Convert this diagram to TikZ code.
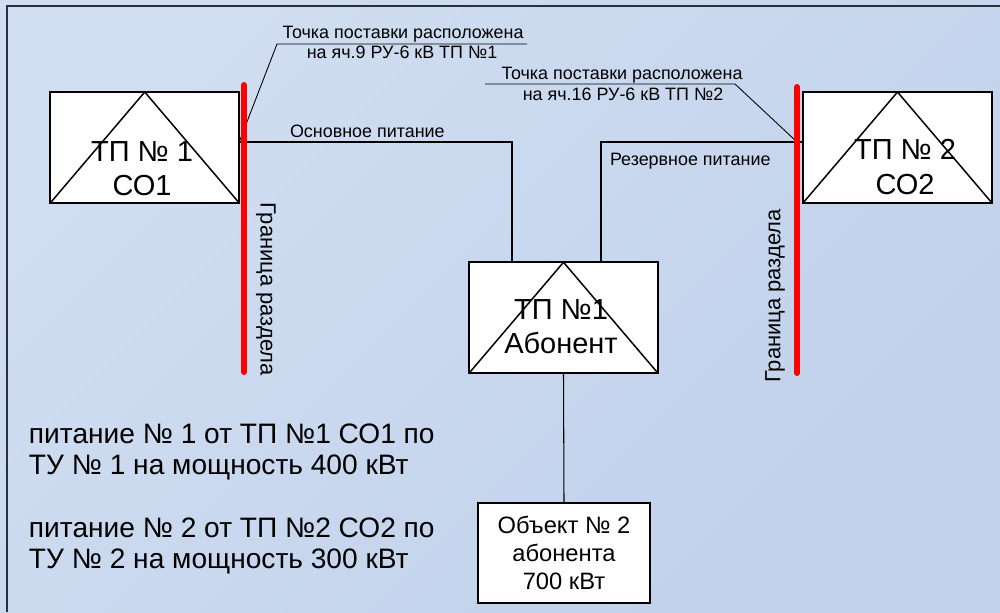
\documentclass[tikz,border=0pt]{standalone}
\usepackage{fontspec}
\setmainfont{Liberation Sans}
\definecolor{fonA}{RGB}{209,222,241}
\definecolor{fonB}{RGB}{192,209,235}
\definecolor{ramka}{RGB}{45,48,58}

\begin{document}
\begin{tikzpicture}[
  x=0.02cm, y=-0.02cm,
  every node/.style={inner sep=0pt, outer sep=0pt, text=black}
]
\tikzset{
  tpbox/.style={draw, line width=1.1pt, fill=white, minimum width=3.78cm, minimum height=2.22cm},
  obbox/.style={draw, line width=1.1pt, fill=white, minimum width=3.44cm, minimum height=2cm},
  tpname/.style={align=center, font=\fontsize{16.5}{19.5}\selectfont},
  obname/.style={align=center, font=\fontsize{13.5}{15.9}\selectfont},
  melkij/.style={font=\fontsize{10.2}{12}\selectfont},
  granica/.style={draw=red, line width=3.4pt, line cap=round},
  granlabel/.style={font=\fontsize{12.5}{14}\selectfont},
  pitanie/.style={align=left, font=\fontsize{16}{17.6}\selectfont},
  liniya/.style={draw, line width=0.6pt},
  vynoska/.style={draw, line width=0.5pt}
}
\useasboundingbox (0,0) rectangle (1000,612);
\shade[left color=fonA, right color=fonB, shading angle=45] (0,0) rectangle (1000,612);
\draw[ramka, line width=1.2pt] (1000,6) -- (7,6) -- (7,612);

\node[tpbox] (tp1) at (144.75,147.5) {};
\node[tpbox] (tp2) at (897.5,147.5) {};
\node[tpbox] (ab) at (563.5,317.75) {};
\node[obbox] (obj) at (564,553) {};
\foreach \b in {tp1,tp2,ab}
  \draw[line width=0.85pt] (\b.south west) -- (\b.north) -- (\b.south east);

\node[tpname] (tp1t) at (142,169) {ТП № 1\\СО1};
\node[tpname] (tp2t) at (905,167) {ТП № 2\\СО2};
\node[tpname] (abt) at (561,327) {ТП №1\\Абонент};
\node[obname] (objt) at (564,553) {Объект № 2\\абонента\\700 кВт};

\coordinate (h1) at (0,142);
\coordinate (v1) at (512,0);
\coordinate (v2) at (601,0);
\coordinate (g1a) at (244,85);
\coordinate (g1b) at (244,372);
\coordinate (g2a) at (797,87);
\coordinate (g2b) at (797,373);

\draw[liniya] (tp1.east |- h1) -| (v1 |- ab.north);
\draw[liniya] (tp2.west |- h1) -| (v2 |- ab.north);
\draw[liniya] (ab.south) -- (obj.north);
\node[melkij, anchor=base west] (osn) at (290,137) {Основное питание};
\node[melkij, anchor=base west] (rez) at (610,165) {Резервное питание};

\coordinate (n1a) at (277,44);
\coordinate (n1b) at (527,44);
\draw[vynoska] (n1b) -- (n1a) -- (tp1.east |- h1);
\node[melkij, anchor=base] (t1a) at (403,38) {Точка поставки расположена};
\node[melkij, anchor=base] (t1b) at (402,58) {на яч.9 РУ-6 кВ ТП №1};
\coordinate (n2a) at (485,84);
\coordinate (n2b) at (735,84);
\draw[vynoska] (n2a) -- (n2b) -- (g2a |- h1);
\node[melkij, anchor=base] (t2a) at (622,79) {Точка поставки расположена};
\node[melkij, anchor=base] (t2b) at (623,100) {на яч.16 РУ-6 кВ ТП №2};

\draw[granica] (g1a) -- (g1b);
\draw[granica] (g2a) -- (g2b);
\node[granlabel, rotate=-90] (gl1) at (266,289) {Граница раздела};
\node[granlabel, rotate=90] (gl2) at (775,296) {Граница раздела};

\node[pitanie, anchor=west] (p1) at (29,452) {питание № 1 от ТП №1 СО1 по\\ТУ № 1 на мощность 400 кВт};
\node[pitanie, anchor=west] (p2) at (29,546) {питание № 2 от ТП №2 СО2 по\\ТУ № 2 на мощность 300 кВт};
\end{tikzpicture}
\end{document}
